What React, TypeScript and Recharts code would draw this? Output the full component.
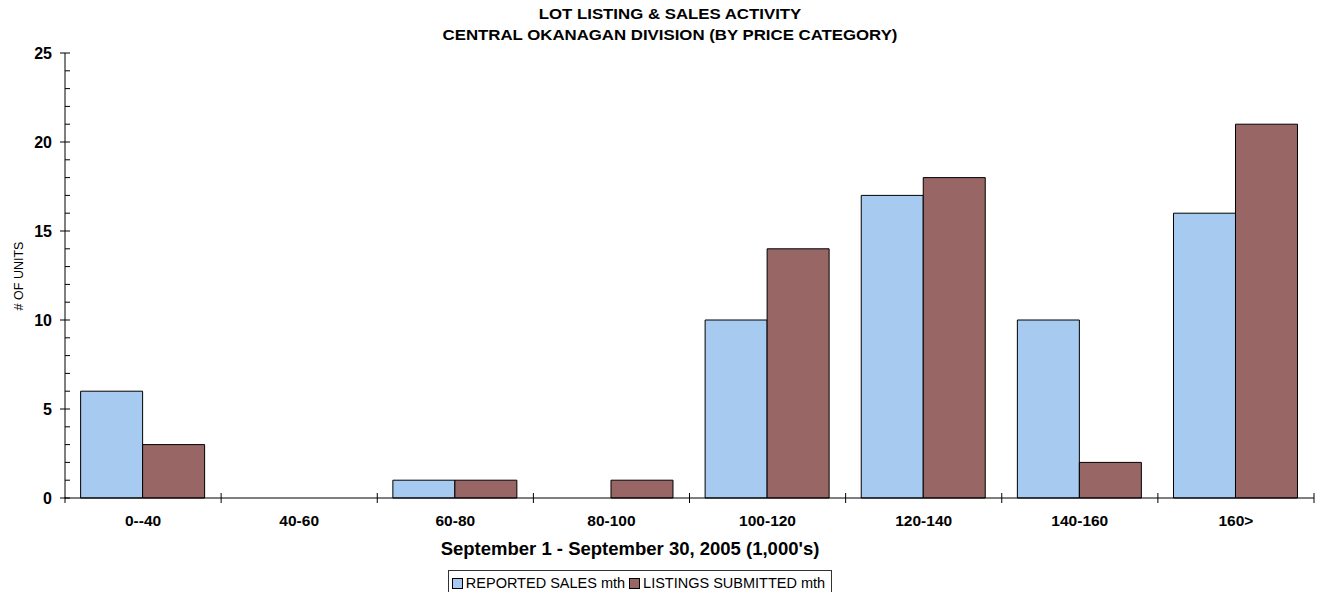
import { BarChart, Bar, XAxis, YAxis, Legend } from "recharts";

const CATEGORIES = ["0--40", "40-60", "60-80", "80-100", "100-120", "120-140", "140-160", "160>"];
const REPORTED_SALES = [6, 0, 1, 0, 10, 17, 10, 16];
const LISTINGS_SUBMITTED = [3, 0, 1, 1, 14, 18, 2, 21];
const Y_TICKS = Array.from({ length: 26 }, (_, i) => i);

const BLUE = "#A6CAF0";
const BROWN = "#996666";
const FONT = "'Liberation Sans', Arial, sans-serif";

const W = 1319;
const H = 592;
const PLOT_LEFT = 65;
const PLOT_RIGHT = 5;
const BAND = (W - PLOT_LEFT - PLOT_RIGHT) / CATEGORIES.length;

const chartData = CATEGORIES.map((name, i) => ({
  name,
  sales: REPORTED_SALES[i],
  listings: LISTINGS_SUBMITTED[i],
}));

function YTick({ x, y, payload }: any) {
  const v = payload.value;
  const major = v % 5 === 0;
  return (
    <g>
      <line x1={major ? x - 5 : x} x2={x + 5} y1={y} y2={y} stroke="#000" />
      {major && (
        <text x={x - 13} y={y} dy={5.5} textAnchor="end" fontFamily={FONT} fontWeight="bold" fontSize={16} fill="#000">
          {v}
        </text>
      )}
    </g>
  );
}

function XTick({ x, y, payload, index }: any) {
  return (
    <g>
      {index === 0 && <line x1={x - BAND / 2} x2={x - BAND / 2} y1={y - 1} y2={y + 5} stroke="#000" />}
      <line x1={x + BAND / 2} x2={x + BAND / 2} y1={y - 5} y2={y + 5} stroke="#000" />
      <text x={x} y={y} dy={28} textAnchor="middle" fontFamily={FONT} fontWeight="bold" fontSize={15.5} fill="#000">
        {payload.value}
      </text>
    </g>
  );
}

function LegendBox() {
  const item = (color: string, label: string) => (
    <span style={{ display: "inline-flex", alignItems: "center", marginRight: 4 }}>
      <span style={{ width: 9, height: 9, background: color, border: "1.5px solid #000", marginRight: 3 }} />
      {label}
    </span>
  );
  return (
    <div style={{ display: "flex", justifyContent: "center" }}>
      <div
        style={{
          border: "1px solid #333",
          padding: "0 2px 0 3px",
          fontFamily: FONT,
          fontSize: 14.5,
          color: "#000",
          display: "flex",
          marginLeft: -34,
          height: 24,
          alignItems: "center",
        }}
      >
        {item(BLUE, "REPORTED SALES mth")}
        {item(BROWN, "LISTINGS SUBMITTED mth")}
      </div>
    </div>
  );
}

export default function App() {
  return (
    <div style={{ position: "absolute", left: 0, top: 0, width: W, height: H, background: "#fff", overflow: "hidden" }}>
      <div
        style={{
          position: "absolute",
          left: 0,
          top: 4,
          width: 1340,
          textAlign: "center",
          fontFamily: FONT,
          fontWeight: "bold",
          fontSize: 14,
          lineHeight: "21px",
          color: "#000",
          transform: "scaleX(1.2)",
          transformOrigin: "670px 0",
        }}
      >
        <div>LOT LISTING &amp; SALES ACTIVITY</div>
        <div>CENTRAL OKANAGAN DIVISION (BY PRICE CATEGORY)</div>
      </div>
      <BarChart
        width={W}
        height={H}
        data={chartData}
        margin={{ top: 53, right: PLOT_RIGHT, left: 0, bottom: 0 }}
        barCategoryGap="10%"
        barGap={0}
      >
        <XAxis
          dataKey="name"
          height={68}
          tickSize={0}
          tickMargin={0}
          tickLine={false}
          axisLine={{ stroke: "#000" }}
          tick={<XTick />}
          interval={0}
          label={{
            content: ({ viewBox }: any) => (
              <text
                x={630}
                y={viewBox.y + 57}
                textAnchor="middle"
                fontFamily={FONT}
                fontWeight="bold"
                fontSize={18.5}
                fill="#000"
              >
                September 1 - September 30, 2005 (1,000's)
              </text>
            ),
          }}
        />
        <YAxis
          width={PLOT_LEFT}
          domain={[0, 25]}
          ticks={Y_TICKS}
          interval={0}
          tickSize={0}
          tickMargin={0}
          tickLine={false}
          axisLine={{ stroke: "#000" }}
          tick={<YTick />}
          label={{
            content: () => (
              <text
                x={0}
                y={0}
                transform="translate(23, 276) rotate(-90)"
                textAnchor="middle"
                fontFamily={FONT}
                fontSize={12.5}
                fill="#000"
              >
                # OF UNITS
              </text>
            ),
          }}
        />
        <Legend verticalAlign="bottom" content={<LegendBox />} wrapperStyle={{ bottom: -4 }} />
        <Bar dataKey="sales" name="REPORTED SALES mth" fill={BLUE} stroke="#000" strokeWidth={1} isAnimationActive={false} />
        <Bar dataKey="listings" name="LISTINGS SUBMITTED mth" fill={BROWN} stroke="#000" strokeWidth={1} isAnimationActive={false} />
      </BarChart>
    </div>
  );
}
